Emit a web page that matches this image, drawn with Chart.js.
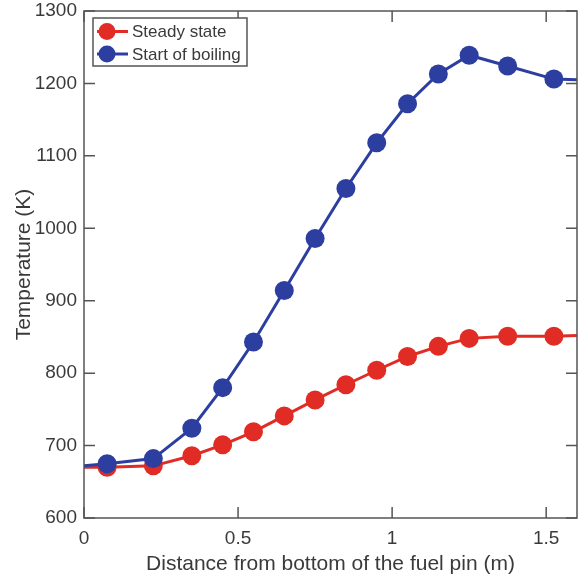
<!DOCTYPE html>
<html>
<head>
<meta charset="utf-8">
<script src="https://cdn.jsdelivr.net/npm/chart.js@4/dist/chart.umd.min.js"></script>
<style>
  html, body { margin: 0; padding: 0; background: #fff; }
  #wrap { width: 578px; height: 581px; }
</style>
</head>
<body>
<div id="wrap"><canvas id="tempChart" width="578" height="581"></canvas></div>
<script>
// distance along the pin (m); first and last entries are only line ends, no marker
const distance = [0, 0.075, 0.225, 0.35, 0.45, 0.55, 0.65, 0.75, 0.85, 0.95, 1.05, 1.15, 1.25, 1.375, 1.525, 1.6];
const steadyState = [670, 670, 672, 686, 701, 719, 741, 763, 784, 804, 823, 837, 848, 851, 851, 852];
const startOfBoiling = [672, 675, 682, 724, 780, 843, 914, 986, 1055, 1118, 1172, 1213, 1239, 1224, 1206, 1205];
const seriesNames = ["Steady state", "Start of boiling"];
const xTicks = [0, 0.5, 1, 1.5];
const yTicks = [600, 700, 800, 900, 1000, 1100, 1200, 1300];

const RED = "rgb(224, 44, 36)";
const BLUE = "rgb(44, 62, 160)";
const AXIS = "#555";
const TEXT = "#3a3a3a";
const FONT = "'Liberation Sans', Arial, sans-serif";

function toPoints(ys) {
    return distance.map((x, i) => ({ x: x, y: ys[i] }));
}

function markerRadius(ctx) {
    const last = distance.length - 1;
    return ctx.dataIndex === 0 || ctx.dataIndex === last ? 0 : 9.5;
}

// matlab-like box with inward ticks on every side
const boxTicks = {
    id: "boxTicks",
    afterDatasetsDraw(chart) {
        const { ctx, chartArea: a, scales } = chart;
        ctx.save();
        ctx.strokeStyle = AXIS;
        ctx.lineWidth = 1.5;
        ctx.strokeRect(a.left, a.top, a.right - a.left, a.bottom - a.top);
        const len = 11;
        ctx.beginPath();
        xTicks.forEach((v) => {
            const px = scales.x.getPixelForValue(v);
            ctx.moveTo(px, a.bottom);
            ctx.lineTo(px, a.bottom - len);
            ctx.moveTo(px, a.top);
            ctx.lineTo(px, a.top + len);
        });
        yTicks.forEach((v) => {
            const py = scales.y.getPixelForValue(v);
            ctx.moveTo(a.left, py);
            ctx.lineTo(a.left + len, py);
            ctx.moveTo(a.right, py);
            ctx.lineTo(a.right - len, py);
        });
        ctx.stroke();
        ctx.restore();
    },
};

// legend box inside the top-left corner
const insideLegend = {
    id: "insideLegend",
    afterDraw(chart) {
        const { ctx, chartArea: a } = chart;
        const colors = [RED, BLUE];
        const x0 = a.left + 9, y0 = a.top + 7;
        const w = 154, h = 48;
        ctx.save();
        ctx.fillStyle = "#fff";
        ctx.fillRect(x0, y0, w, h);
        ctx.strokeStyle = AXIS;
        ctx.lineWidth = 1.5;
        ctx.strokeRect(x0, y0, w, h);
        ctx.font = "17px " + FONT;
        ctx.textBaseline = "middle";
        seriesNames.forEach((name, i) => {
            const cy = y0 + 13.5 + i * 22.5;
            ctx.strokeStyle = colors[i];
            ctx.lineWidth = 3;
            ctx.beginPath();
            ctx.moveTo(x0 + 4, cy);
            ctx.lineTo(x0 + 35, cy);
            ctx.stroke();
            ctx.fillStyle = colors[i];
            ctx.beginPath();
            ctx.arc(x0 + 14, cy, 8.5, 0, Math.PI * 2);
            ctx.fill();
            ctx.fillStyle = TEXT;
            ctx.fillText(name, x0 + 39, cy + 1);
        });
        ctx.restore();
    },
};

new Chart(document.getElementById("tempChart"), {
    type: "line",
    data: {
        datasets: [
            {
                label: seriesNames[0],
                data: toPoints(steadyState),
                borderColor: RED,
                backgroundColor: RED,
                borderWidth: 3,
                pointRadius: markerRadius,
                pointBorderWidth: 0,
                order: 2,
            },
            {
                label: seriesNames[1],
                data: toPoints(startOfBoiling),
                borderColor: BLUE,
                backgroundColor: BLUE,
                borderWidth: 3,
                pointRadius: markerRadius,
                pointBorderWidth: 0,
                order: 1,
            },
        ],
    },
    options: {
        responsive: false,
        animation: false,
        layout: { padding: { top: 11, right: 1, left: 0, bottom: 0 } },
        plugins: {
            legend: { display: false },
            tooltip: { enabled: false },
        },
        scales: {
            x: {
                type: "linear",
                min: 0,
                max: 1.6,
                grid: { display: false, drawTicks: false },
                border: { display: false },
                afterBuildTicks: (scale) => {
                    scale.ticks = xTicks.map((v) => ({ value: v }));
                },
                afterFit: (scale) => {
                    scale.height = 63;
                    scale.paddingLeft = 0;
                    scale.paddingRight = 0;
                },
                ticks: {
                    color: TEXT,
                    padding: 9,
                    font: { family: FONT, size: 19 },
                    maxRotation: 0,
                    callback: (v) => String(v),
                },
                title: {
                    display: true,
                    text: "Distance from bottom of the fuel pin (m)",
                    color: TEXT,
                    font: { family: FONT, size: 21 },
                    padding: { top: 0, bottom: 4 },
                },
            },
            y: {
                min: 600,
                max: 1300,
                grid: { display: false, drawTicks: false },
                border: { display: false },
                afterBuildTicks: (scale) => {
                    scale.ticks = yTicks.map((v) => ({ value: v }));
                },
                afterFit: (scale) => {
                    scale.width = 84;
                    scale.paddingTop = 0;
                    scale.paddingBottom = 0;
                },
                ticks: {
                    color: TEXT,
                    padding: 7,
                    font: { family: FONT, size: 19 },
                    callback: (v) => String(v),
                },
                title: {
                    display: true,
                    text: "Temperature (K)",
                    color: TEXT,
                    font: { family: FONT, size: 21 },
                    padding: { top: 12, bottom: 0 },
                },
            },
        },
    },
    plugins: [boxTicks, insideLegend],
});
</script>
</body>
</html>
